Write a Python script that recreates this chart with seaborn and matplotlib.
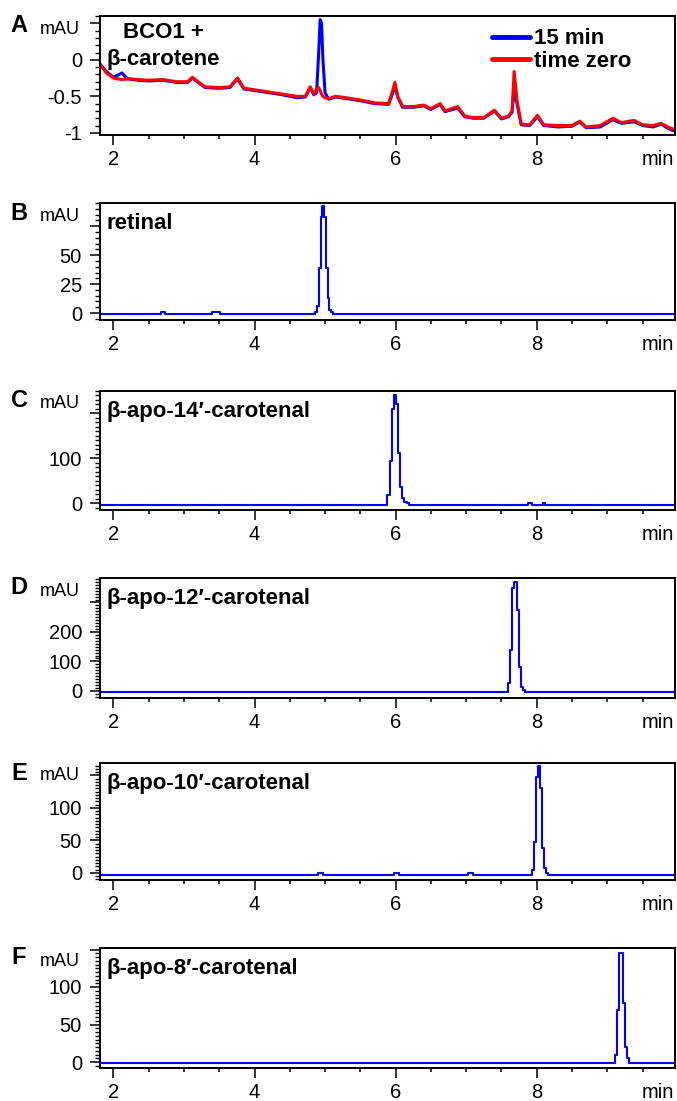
import matplotlib
matplotlib.use("Agg")
import matplotlib.pyplot as plt
import matplotlib.ticker as mticker
import seaborn as sns
import pandas as pd

# ---- data (time in min, absorbance in mAU) ----

# A: BCO1 + beta-carotene, two traces
t_a = [1.82, 1.9, 2.0, 2.12, 2.2, 2.35, 2.5, 2.7, 2.9, 3.05, 3.12, 3.2, 3.3, 3.5,
       3.65, 3.76, 3.85, 4.0, 4.2, 4.4, 4.6, 4.72, 4.79, 4.84, 4.88, 4.91, 4.93,
       4.95, 4.97, 5.0, 5.05, 5.15, 5.3, 5.5, 5.7, 5.9, 5.95, 5.99, 6.03, 6.1,
       6.25, 6.4, 6.5, 6.63, 6.7, 6.88, 6.98, 7.1, 7.25, 7.4, 7.5, 7.6, 7.65,
       7.68, 7.72, 7.78, 7.9, 8.01, 8.1, 8.3, 8.5, 8.61, 8.7, 8.9, 9.08, 9.2,
       9.38, 9.5, 9.65, 9.76, 9.88, 9.97]
red_a = [-0.07, -0.18, -0.25, -0.27, -0.26, -0.27, -0.28, -0.27, -0.30, -0.30,
         -0.24, -0.30, -0.37, -0.38, -0.37, -0.25, -0.39, -0.41, -0.44, -0.47,
         -0.50, -0.50, -0.37, -0.47, -0.40, -0.38, -0.42, -0.47, -0.50, -0.52,
         -0.53, -0.50, -0.52, -0.55, -0.59, -0.60, -0.45, -0.31, -0.50, -0.64,
         -0.64, -0.62, -0.67, -0.60, -0.70, -0.64, -0.77, -0.79, -0.79, -0.69,
         -0.80, -0.77, -0.70, -0.16, -0.55, -0.88, -0.89, -0.76, -0.89, -0.90,
         -0.90, -0.84, -0.92, -0.90, -0.80, -0.86, -0.83, -0.89, -0.90, -0.87,
         -0.93, -0.96]
blue_a = [-0.07, -0.16, -0.24, -0.18, -0.26, -0.28, -0.29, -0.28, -0.31, -0.31,
          -0.25, -0.31, -0.38, -0.39, -0.38, -0.26, -0.40, -0.42, -0.45, -0.48,
          -0.52, -0.51, -0.38, -0.48, -0.45, 0.10, 0.55, 0.50, 0.00, -0.45,
          -0.54, -0.51, -0.53, -0.56, -0.60, -0.61, -0.48, -0.36, -0.51, -0.65,
          -0.65, -0.63, -0.68, -0.61, -0.71, -0.66, -0.78, -0.80, -0.80, -0.70,
          -0.81, -0.78, -0.72, -0.40, -0.60, -0.89, -0.90, -0.78, -0.90, -0.92,
          -0.91, -0.85, -0.93, -0.92, -0.82, -0.87, -0.85, -0.90, -0.92, -0.88,
          -0.95, -0.98]

# B: retinal
t_b = [1.82, 2.66, 2.69, 2.72, 2.75, 3.38, 3.41, 3.45, 3.49, 3.52, 4.85, 4.875,
       4.90, 4.925, 4.95, 4.975, 5.00, 5.025, 5.05, 5.075, 5.10, 5.125, 9.97]
y_b = [-1, -1, 0.5, 0.5, -1, -1, 0.5, 1, 0.5, -1, -1, 1,
       6, 39, 83, 92, 83, 39, 13, 3, 1, -1, -1]

# C: beta-apo-14'-carotenal
t_c = [1.82, 5.87, 5.90, 5.93, 5.96, 5.99, 6.02, 6.05, 6.08, 6.11, 6.14, 6.17,
       6.20, 7.86, 7.89, 7.92, 7.95, 8.07, 8.10, 8.13, 9.97]
y_c = [-3, -3, 18, 95, 211, 240, 222, 111, 36, 11, 3, 0,
       -3, -3, 1, 1, -3, -3, 1, -3, -3]

# D: beta-apo-12'-carotenal
t_d = [1.82, 7.58, 7.61, 7.64, 7.67, 7.70, 7.73, 7.76, 7.79, 7.82, 7.85, 9.97]
y_d = [-3, -3, 27, 139, 349, 370, 275, 81, 14, 3, -3, -3]

# E: beta-apo-10'-carotenal
t_e = [1.82, 4.89, 4.92, 4.96, 4.99, 5.96, 5.99, 6.03, 6.06, 7.01, 7.04, 7.08,
       7.11, 7.925, 7.953, 7.98, 8.008, 8.036, 8.064, 8.09, 8.12, 8.148,
       8.176, 9.97]
y_e = [-3, -3, 0, 0, -3, -3, 0, 0, -3, -3, 0, 0,
       -3, -3, 5, 48, 148, 165, 131, 38, 8, 0,
       -3, -3]

# F: beta-apo-8'-carotenal
t_f = [1.82, 9.10, 9.125, 9.153, 9.18, 9.208, 9.236, 9.264, 9.29, 9.32, 9.97]
y_f = [-1, -1, 9, 69, 145, 145, 79, 20, 5, -1, -1]

letters = ["A", "B", "C", "D", "E", "F"]
titles = [None, "retinal", "β-apo-14′-carotenal", "β-apo-12′-carotenal",
          "β-apo-10′-carotenal", "β-apo-8′-carotenal"]
ylims = [(-1.03, 0.6), (-6, 95), (-15, 250), (-24, 383), (-11, 169), (-8, 152)]
# the top major tick of each panel carries no number ("mAU" sits there)
yticks = [[-1, -0.5, 0, 0.5], [0, 25, 50, 75], [0, 100, 200], [0, 100, 200, 300],
          [0, 50, 100, 150], [0, 50, 100, 150]]
yticklabels = [["-1", "-0.5", "0", ""], ["0", "25", "50", ""], ["0", "100", ""],
               ["0", "100", "200", ""], ["0", "50", "100", ""],
               ["0", "50", "100", ""]]
yminor = [0.1, 5, 10, 10, 5, 5]

# ---- style ----
sns.set_style("ticks")
plt.rcParams["font.family"] = ["Liberation Sans", "DejaVu Sans"]
plt.rcParams["axes.unicode_minus"] = False
plt.rcParams["text.color"] = "black"
plt.rcParams["xtick.color"] = "black"
plt.rcParams["ytick.color"] = "black"
plt.rcParams["axes.labelcolor"] = "black"

W, H = 677, 1101
fig = plt.figure(figsize=(W / 100, H / 100), dpi=100)

tops = [16, 203, 391, 578, 763, 948]
bottoms = [135, 320, 510, 698, 880, 1068]
left, right = 100, 675

axes = []
for top, bot in zip(tops, bottoms):
    ax = fig.add_axes([left / W, 1 - bot / H, (right - left) / W, (bot - top) / H])
    axes.append(ax)

# panel A traces: blue first, red on top
trace_a = pd.DataFrame({"t": t_a + t_a,
                        "mAU": blue_a + red_a,
                        "run": ["15 min"] * len(t_a) + ["time zero"] * len(t_a)})
sns.lineplot(data=trace_a, x="t", y="mAU", hue="run", palette=["#0000ff", "#ff0000"],
             linewidth=2.2, ax=axes[0], legend=False, sort=False, estimator=None)

others = [(t_b, y_b), (t_c, y_c), (t_d, y_d), (t_e, y_e), (t_f, y_f)]
for ax, (tt, yy) in zip(axes[1:], others):
    df = pd.DataFrame({"t": tt, "mAU": yy})
    sns.lineplot(data=df, x="t", y="mAU", color="#0000ff", linewidth=1.5,
                 drawstyle="steps-mid", ax=ax, estimator=None, sort=False)

bold16 = {"fontsize": 16, "fontweight": "bold"}
for i, ax in enumerate(axes):
    ax.set_xlim(1.81, 9.96)
    ax.set_ylim(*ylims[i])
    ax.set_xticks([2, 4, 6, 8])
    ax.set_xticklabels(["2", "4", "6", "8"])
    ax.xaxis.set_minor_locator(mticker.MultipleLocator(0.5))
    ax.set_yticks(yticks[i])
    ax.set_yticklabels(yticklabels[i])
    ax.yaxis.set_minor_locator(mticker.MultipleLocator(yminor[i]))
    ax.set_xlabel("")
    ax.set_ylabel("")
    for s in ax.spines.values():
        s.set_visible(True)
        s.set_linewidth(1.4)
        s.set_color("black")
    ax.tick_params(axis="x", which="major", length=7, width=1.1, pad=4,
                   labelsize=14.5, direction="out")
    ax.tick_params(axis="x", which="minor", length=3.2, width=1.1, direction="out")
    ax.tick_params(axis="y", which="major", length=7.5, width=1.1, pad=5.5,
                   labelsize=14.5, direction="out")
    ax.tick_params(axis="y", which="minor", length=3.4, width=1.0, direction="out")
    ax.tick_params(top=False, right=False)

    # unit labels
    ax.annotate("mAU", xy=(0, 1), xycoords="axes fraction", xytext=(-20, -13),
                textcoords="offset pixels", ha="right", va="center", fontsize=13)
    ax.annotate("min", xy=(1, 0), xycoords="axes fraction", xytext=(-1, -15),
                textcoords="offset pixels", ha="right", va="top", fontsize=14.5)
    # panel letter
    ax.annotate(letters[i], xy=(0, 1), xycoords="axes fraction", xytext=(-81, -10),
                textcoords="offset pixels", ha="center", va="center",
                fontsize=17, fontweight="bold")
    if titles[i]:
        ax.annotate(titles[i], xy=(0, 1), xycoords="axes fraction", xytext=(6, -10),
                    textcoords="offset pixels", ha="left", va="top", **bold16)

# panel A labels and legend
axA = axes[0]
axA.annotate("BCO1 +", xy=(0, 1), xycoords="axes fraction", xytext=(23, -17),
             textcoords="offset pixels", ha="left", va="center", **bold16)
axA.annotate("β-carotene", xy=(0, 1), xycoords="axes fraction", xytext=(7, -43),
             textcoords="offset pixels", ha="left", va="center", **bold16)
handles = [plt.Line2D([], [], color="#0000ff", lw=3.5),
           plt.Line2D([], [], color="#ff0000", lw=3.5)]
leg = axA.legend(handles, ["15 min", "time zero"], loc="upper left",
                 bbox_to_anchor=(0.682, 0.895), frameon=False, handlelength=1.7,
                 handletextpad=0.2, labelspacing=0.08, borderaxespad=0, borderpad=0,
                 prop={"family": ["Liberation Sans", "DejaVu Sans"], "weight": "bold",
                       "size": 16})

fig.savefig("out.png", dpi=100)
